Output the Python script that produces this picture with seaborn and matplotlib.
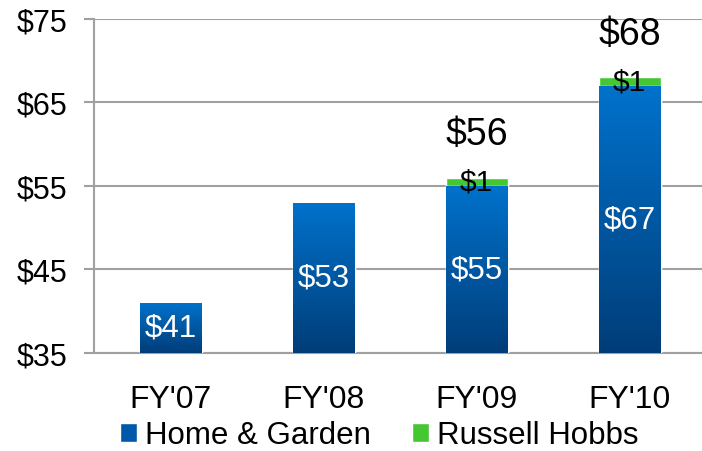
import matplotlib
matplotlib.use("Agg")
import matplotlib.pyplot as plt
from matplotlib.patches import Patch
from matplotlib.colors import LinearSegmentedColormap
import seaborn as sns
import numpy as np
import pandas as pd


# ==================================================
# Data
# ==================================================

years = ["FY'07", "FY'08", "FY'09", "FY'10"]

home_garden = [41, 53, 55, 67]

russell_hobbs = [0, 0, 1, 1]

totals = [h + r for h, r in zip(home_garden, russell_hobbs)]

y_ticks = [35, 45, 55, 65, 75]


df = pd.DataFrame({
    "year": years,
    "home_garden": home_garden,
    "russell_hobbs": russell_hobbs,
    "total": totals,
})


# ==================================================
# Style
# ==================================================

sns.set_style("white")

plt.rcParams["font.family"] = ["Liberation Sans", "DejaVu Sans"]

GREEN = "#44C733"
BLUE_TOP = "#0072CC"
BLUE_BOTTOM = "#003D78"
GRID = "#A0A0A0"

blue_cmap = LinearSegmentedColormap.from_list(
    "bluegrad", [BLUE_BOTTOM, BLUE_TOP]
)


fig = plt.figure(figsize=(7.02, 4.52), dpi=100)

ax = fig.add_axes([0.134, 0.2168, 0.872, 0.739])


# ==================================================
# Bars (total in green underneath, blue on top)
# ==================================================

sns.barplot(
    data=df, x="year", y="total",
    color=GREEN, saturation=1, width=0.405,
    ax=ax, zorder=3
)

n_green = len(ax.patches)

sns.barplot(
    data=df, x="year", y="home_garden",
    color=BLUE_TOP, saturation=1, width=0.405,
    ax=ax, zorder=3
)

ax.set_ylim(35, 75)
ax.set_xlim(-0.5, 3.5)

# gradient fill on the blue bars
grad = np.linspace(0, 1, 256).reshape(-1, 1)

for patch in ax.patches[n_green:]:
    x0 = patch.get_x()
    w = patch.get_width()
    top = patch.get_height()
    im = ax.imshow(
        grad, cmap=blue_cmap, origin="lower", aspect="auto",
        extent=[x0, x0 + w, 35, top], zorder=4
    )
    im.set_clip_path(patch)

ax.set_xlim(-0.5, 3.5)
ax.set_ylim(35, 75)


# ==================================================
# Labels
# ==================================================

for i, (hg, rh, tot) in enumerate(zip(home_garden, russell_hobbs, totals)):

    ax.text(
        i, (35 + hg) / 2, f"${hg}",
        ha="center", va="center", color="white",
        fontsize=22.5, zorder=6
    )

    if rh > 0:
        ax.text(
            i, hg + rh / 2, f"${rh}",
            ha="center", va="center", color="black",
            fontsize=21.5, zorder=6
        )
        ax.text(
            i, tot + 5.2, f"${tot}",
            ha="center", va="center", color="black",
            fontsize=27, zorder=6
        )


# ==================================================
# Axes
# ==================================================

ax.set_yticks(y_ticks)
ax.set_yticklabels([f"${v}" for v in y_ticks], fontsize=22, color="black")

ax.set_xticks(range(len(years)))
ax.set_xticklabels(years, fontsize=23, color="black")

ax.set_xticks([-0.5, 0.5, 1.5, 2.5, 3.5], minor=True)

ax.tick_params(axis="x", which="major", length=0, pad=22)
ax.tick_params(axis="x", which="minor", length=7, width=1.5,
               color=GRID, direction="out")
ax.tick_params(axis="y", length=7, width=1.5, color=GRID,
               direction="out", pad=12, left=True)

ax.set_xlabel("")
ax.set_ylabel("")

ax.yaxis.grid(True, color=GRID, linewidth=1.5, zorder=0)
ax.set_axisbelow(True)

for side in ["top", "right"]:
    ax.spines[side].set_visible(False)

for side in ["left", "bottom"]:
    ax.spines[side].set_color(GRID)
    ax.spines[side].set_linewidth(1.5)


# ==================================================
# Legend
# ==================================================

handles = [
    Patch(facecolor="#0058A8", label="Home & Garden"),
    Patch(facecolor=GREEN, label="Russell Hobbs"),
]

leg = fig.legend(
    handles=handles, loc="center", bbox_to_anchor=(0.54, 0.035),
    ncol=2, frameon=False, fontsize=22.5,
    handlelength=0.55, handleheight=0.55, handletextpad=0.25,
    columnspacing=1.3, borderaxespad=0
)

for t in leg.get_texts():
    t.set_color("black")


plt.savefig("out.png", dpi=100)

plt.close()
